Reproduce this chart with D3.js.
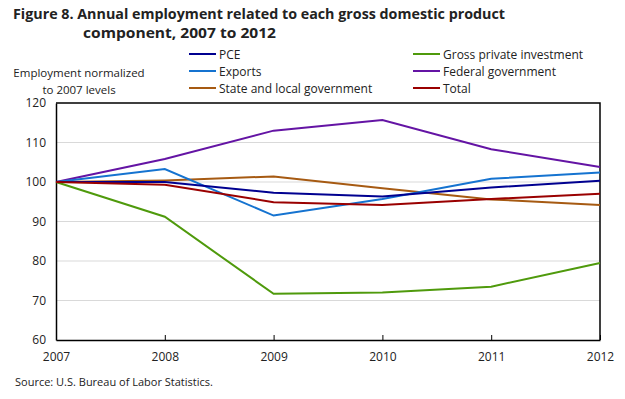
<!DOCTYPE html>
<html lang="en">
<head>
<meta charset="utf-8">
<title>Figure 8</title>
<script src="https://d3js.org/d3.v7.min.js"></script>
<style>
  body { margin: 0; background: #fff; }
  text { font-family: "Open Sans", "DejaVu Sans", sans-serif; fill: #222; }
  .grid line { stroke: #d9d9d9; }
  .series { fill: none; stroke-width: 2px; }
</style>
</head>
<body>
<script>
const years = [2007, 2008, 2009, 2010, 2011, 2012];
const yTicks = [60, 70, 80, 90, 100, 110, 120];

const pce      = [100, 100.0, 97.3, 96.3, 98.6, 100.3];
const exportsV = [100, 103.3, 91.5, 95.7, 100.8, 102.4];
const stateLoc = [100, 100.4, 101.4, 98.4, 95.6, 94.2];
const grossInv = [100, 91.2, 71.7, 72.0, 73.5, 79.5];
const federal  = [100, 105.8, 113.0, 115.7, 108.3, 103.8];
const total    = [100, 99.3, 94.9, 94.2, 95.7, 97.0];

const seriesNames = ["PCE", "Exports", "State and local government",
                     "Gross private investment", "Federal government", "Total"];
const seriesColors = ["#000090", "#1573d0", "#a65a12", "#4f9a0c", "#6414a4", "#9a0000"];
const seriesValues = [pce, exportsV, stateLoc, grossInv, federal, total];
// drawing order (bottom to top)
const drawOrder = [3, 4, 2, 1, 0, 5];

const W = 625, H = 399;
const mLeft = 56, mRight = 600, mTop = 103, mBottom = 340;

const svg = d3.select("body").append("svg").attr("width", W).attr("height", H);

// title
svg.append("text").attr("x", 13).attr("y", 19)
   .attr("font-size", 15).attr("font-weight", "bold")
   .attr("textLength", 492).attr("lengthAdjust", "spacingAndGlyphs")
   .text("Figure 8. Annual employment related to each gross domestic product");
svg.append("text").attr("x", 83).attr("y", 38)
   .attr("font-size", 15).attr("font-weight", "bold")
   .attr("textLength", 193).attr("lengthAdjust", "spacingAndGlyphs")
   .text("component, 2007 to 2012");

// y label
svg.append("text").attr("x", 79).attr("y", 77).attr("text-anchor", "middle")
   .attr("font-size", 11.5).text("Employment normalized");
svg.append("text").attr("x", 79).attr("y", 94).attr("text-anchor", "middle")
   .attr("font-size", 11.5).text("to 2007 levels");

const x = d3.scaleLinear().domain([2007, 2012]).range([mLeft, mRight]);
const y = d3.scaleLinear().domain([60, 120]).range([mBottom, mTop]);

// grid
svg.append("g").attr("class", "grid")
   .selectAll("line").data(yTicks.filter(d => d > 60 && d < 120)).join("line")
   .attr("x1", mLeft).attr("x2", mRight)
   .attr("y1", d => y(d)).attr("y2", d => y(d));

// frame top/right
svg.append("path")
   .attr("d", `M${mLeft},${mTop}H${mRight}V${mBottom}`)
   .attr("fill", "none").attr("stroke", "#000").attr("stroke-width", 1.5);

// axes
const yAxis = svg.append("g").attr("transform", `translate(${mLeft},0)`)
   .call(d3.axisLeft(y).tickValues(yTicks).tickSize(0).tickPadding(10));
yAxis.select(".domain").attr("stroke", "#000").attr("stroke-width", 1.5);
yAxis.selectAll("text").attr("font-size", 12).attr("fill", "#222")
   .attr("font-family", "'Open Sans', sans-serif");

const xAxis = svg.append("g").attr("transform", `translate(0,${mBottom})`)
   .call(d3.axisBottom(x).tickValues(years).tickFormat(d3.format("d"))
          .tickSizeInner(-5).tickSizeOuter(0).tickPadding(12));
xAxis.select(".domain").attr("stroke", "#000").attr("stroke-width", 1.5);
xAxis.selectAll(".tick line").attr("stroke", "#000");
xAxis.selectAll("text").attr("font-size", 12).attr("fill", "#222")
   .attr("font-family", "'Open Sans', sans-serif");

// lines
const line = d3.line().x((d, i) => x(years[i])).y(d => y(d));
svg.append("g").selectAll("path").data(drawOrder).join("path")
   .attr("class", "series")
   .attr("stroke", i => seriesColors[i])
   .attr("d", i => line(seriesValues[i]));

// legend
const legX = [189, 413];
const legY = [54, 71, 88];
const leg = svg.append("g").selectAll("g").data(seriesNames).join("g")
   .attr("transform", (d, i) => `translate(${legX[Math.floor(i / 3)]},${legY[i % 3]})`);
leg.append("line").attr("x1", 0).attr("x2", 27)
   .attr("stroke", (d, i) => seriesColors[i]).attr("stroke-width", 2);
leg.append("text").attr("x", 30).attr("y", 4.5).attr("font-size", 12).text(d => d);

// source
svg.append("text").attr("x", 15).attr("y", 386).attr("font-size", 11)
   .text("Source: U.S. Bureau of Labor Statistics.");
</script>
</body>
</html>
